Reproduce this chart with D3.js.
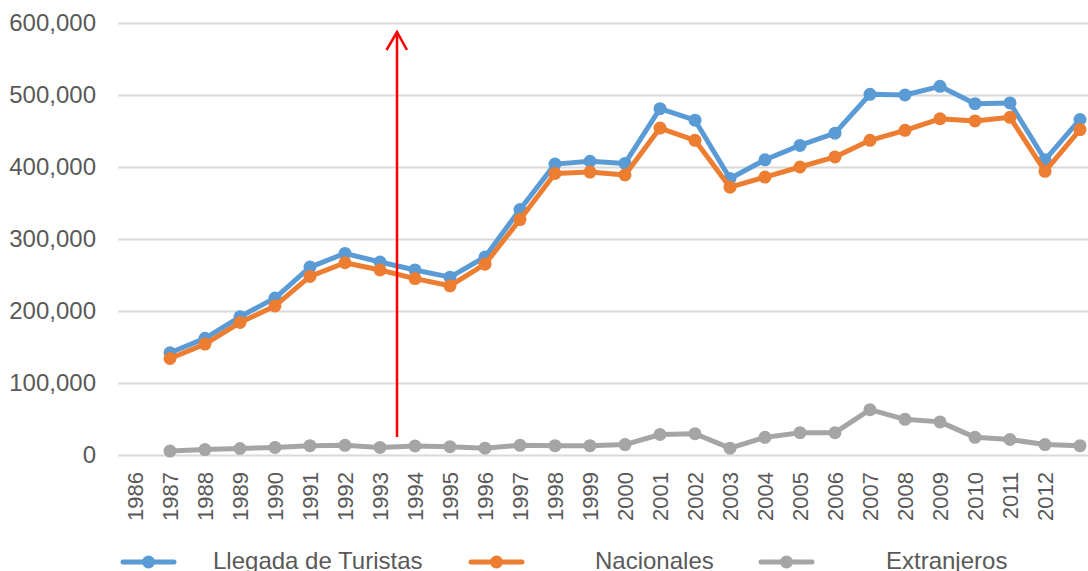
<!DOCTYPE html>
<html>
<head>
<meta charset="utf-8">
<script src="https://cdn.jsdelivr.net/npm/d3@7"></script>
<style>
  body { margin: 0; background: #fff; }
  svg { display: block; font-family: "Liberation Sans", Arial, sans-serif; }
</style>
</head>
<body>
<svg id="chart" width="1088" height="571"></svg>
<script>
// category slots on the axis (last slot carries no label)
var categories = ["1986","1987","1988","1989","1990","1991","1992","1993","1994","1995",
  "1996","1997","1998","1999","2000","2001","2002","2003","2004","2005","2006","2007",
  "2008","2009","2010","2011","2012",""]

var turistas = [null,142000,162000,192000,218000,261000,280000,268000,257000,247000,
  275000,341000,404000,408000,405000,481000,465000,384000,410000,430000,447000,501000,
  500000,512000,488000,489000,410000,466000]

var nacionales = [null,134000,154000,184000,207000,248000,267000,257000,245000,235000,
  265000,327000,391000,393000,389000,454000,437000,372000,386000,400000,414000,437000,
  451000,467000,464000,469000,394000,452000]

var extranjeros = [null,5500,7500,9000,10500,13000,13500,10500,12500,11500,
  9500,13500,13000,13000,14500,28500,29500,9500,24500,31000,31000,63000,
  49500,46000,24500,21500,14500,13000]

var yTicks = [0,100000,200000,300000,400000,500000,600000]

var seriesNames = ["Llegada de Turistas","Nacionales","Extranjeros"]
var seriesColors = ["#5B9BD5","#ED7D31","#A5A5A5"]

var svg = d3.select("#chart")
var width = 1088, height = 571

var x = d3.scaleBand().domain(categories).range([117.5, 1097.5]).padding(0)
var cx = function(c){ return x(c) + x.bandwidth()/2 }
var y = d3.scaleLinear().domain([0,600000]).range([455,23])

//gridlines + y labels
var yAxis = svg.append("g")
    .attr("transform","translate(118,0)")
    .call(d3.axisLeft(y).tickValues(yTicks).tickSize(-(width-118))
      .tickFormat(d3.format(",")).tickPadding(22))
yAxis.select(".domain").remove()
yAxis.selectAll(".tick line").attr("stroke","#D9D9D9").attr("stroke-width",2)
yAxis.selectAll(".tick text")
    .attr("fill","#595959")
    .style("font-size","24px")
    .style("font-family","'Liberation Sans', Arial, sans-serif")

//x labels, vertical
var xAxis = svg.append("g")
    .attr("transform","translate(0,472)")
    .call(d3.axisBottom(x).tickSize(0).tickPadding(0))
xAxis.select(".domain").remove()
xAxis.selectAll(".tick text")
    .attr("fill","#595959")
    .attr("transform","rotate(-90)")
    .attr("x",0).attr("y",0).attr("dy","0.35em")
    .style("text-anchor","end")
    .style("font-size","22px")
    .style("font-family","'Liberation Sans', Arial, sans-serif")

//series
var allSeries = [turistas, nacionales, extranjeros]
var line = d3.line()
    .defined(function(d){ return d.v != null })
    .x(function(d){ return cx(d.c) })
    .y(function(d){ return y(d.v) })

allSeries.forEach(function(vals, i){
  var pts = vals.map(function(v, j){ return {c: categories[j], v: v} })
  var g = svg.append("g").attr("class","series s"+i)
  g.append("path")
      .datum(pts)
      .attr("fill","none")
      .attr("stroke",seriesColors[i])
      .attr("stroke-width",5)
      .attr("stroke-linejoin","round")
      .attr("d",line)
  g.selectAll("circle")
      .data(pts.filter(function(d){ return d.v != null }))
    .enter().append("circle")
      .attr("cx",function(d){ return cx(d.c) })
      .attr("cy",function(d){ return y(d.v) })
      .attr("r",6.5)
      .attr("fill",seriesColors[i])
})

//red arrow annotation
var arrow = svg.append("g").attr("stroke","#FF0000").attr("stroke-width",2.5).attr("fill","none")
arrow.append("line").attr("x1",397).attr("y1",437).attr("x2",397).attr("y2",33)
arrow.append("polyline").attr("points","386.5,50 397,32 407,50")

//legend
var legendX = [121, 469, 759]
var legendTextX = [213, 595, 886]
var legend = svg.append("g")
seriesNames.forEach(function(name, i){
  var lg = legend.append("g")
  lg.append("line")
      .attr("x1",legendX[i]+2).attr("x2",legendX[i]+53)
      .attr("y1",562).attr("y2",562)
      .attr("stroke",seriesColors[i]).attr("stroke-width",5)
      .attr("stroke-linecap","round")
  lg.append("circle")
      .attr("cx",legendX[i]+27.5).attr("cy",562).attr("r",6.5)
      .attr("fill",seriesColors[i])
  lg.append("text")
      .attr("x",legendTextX[i]).attr("y",569)
      .attr("fill","#595959")
      .style("font-size","24px")
      .text(name)
})
</script>
</body>
</html>
